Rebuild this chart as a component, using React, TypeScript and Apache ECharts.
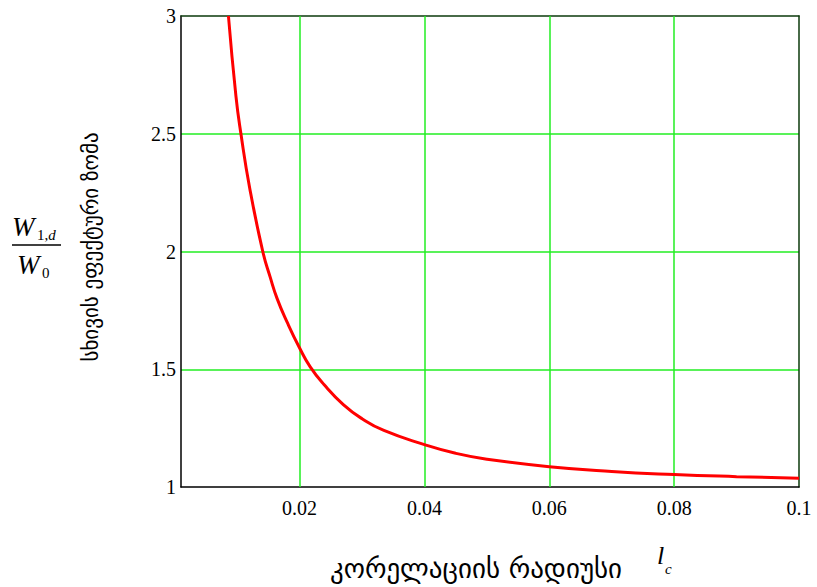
import React, { useEffect, useRef } from "react";
import * as echarts from "echarts";

const xValues = [0.0086, 0.0098, 0.0106, 0.012, 0.0141, 0.0153, 0.0164, 0.018, 0.02, 0.0217, 0.0239, 0.027, 0.03, 0.0335, 0.04, 0.045, 0.05, 0.06, 0.07, 0.08, 0.09, 0.1];
const yValues = [3.0, 2.66, 2.5, 2.27, 2.0, 1.89, 1.8, 1.7, 1.59, 1.51, 1.435, 1.35, 1.29, 1.24, 1.18, 1.143, 1.118, 1.086, 1.066, 1.053, 1.044, 1.037];
const xTickLabels = [0.02, 0.04, 0.06, 0.08, 0.1];
const xGridValues = [0.02, 0.04, 0.06, 0.08];
const xTitle = "კორელაციის რადიუსი";
const yTitle = "სხივის ეფექტური ზომა";

const SERIF = "'Liberation Serif', 'DejaVu Serif', serif";
const GEO = "'DejaVu Sans', 'Noto Sans', sans-serif";
const GRID_GREEN = "#22ee22";

export default function App() {
  const ref = useRef<HTMLDivElement>(null);
  useEffect(() => {
    document.body.style.margin = "0";
    const chart = echarts.init(ref.current!, null, { renderer: "svg" });
    const data = xValues.map((x, i) => [x, yValues[i]]);
    chart.setOption({
      animation: false,
      backgroundColor: "#ffffff",
      grid: { left: 181, right: 18, top: 16, bottom: 100, containLabel: false },
      xAxis: [
        {
          type: "value",
          min: 0.001,
          max: 0.1,
          axisLine: { show: true, lineStyle: { color: "#000", width: 1.5 } },
          axisTick: { show: false },
          splitLine: { show: false },
          axisLabel: {
            customValues: xTickLabels,
            color: "#000",
            fontFamily: SERIF,
            fontSize: 20,
            margin: 11,
            formatter: (v: number) => String(+v.toFixed(2)),
          },
        },
        {
          type: "value",
          position: "top",
          min: 0.001,
          max: 0.1,
          axisLine: { show: true, lineStyle: { color: "#0b3a0b", width: 1.5 } },
          axisTick: { show: false },
          axisLabel: { show: false },
          splitLine: { show: false },
        },
      ],
      yAxis: [
        {
          type: "value",
          min: 1,
          max: 3,
          interval: 0.5,
          axisLine: { show: true, lineStyle: { color: "#000", width: 1.5 } },
          axisTick: { show: false },
          splitLine: { show: true, showMinLine: false, showMaxLine: false, lineStyle: { color: GRID_GREEN, width: 1.5 } },
          axisLabel: {
            color: "#000",
            fontFamily: SERIF,
            fontSize: 20,
            margin: 5,
            formatter: (v: number) => String(v),
          },
        },
        {
          type: "value",
          position: "right",
          min: 1,
          max: 3,
          interval: 0.5,
          axisLine: { show: true, lineStyle: { color: "#0b3a0b", width: 1.5 } },
          axisTick: { show: false },
          axisLabel: { show: false },
          splitLine: { show: false },
        },
      ],
      series: [
        {
          type: "line",
          data,
          smooth: 0.5,
          showSymbol: false,
          symbol: "none",
          lineStyle: { color: "#ff0000", width: 3 },
          z: 5,
          markLine: {
            silent: true,
            symbol: "none",
            label: { show: false },
            lineStyle: { color: GRID_GREEN, width: 1.5, type: "solid" },
            data: xGridValues.map((v) => ({ xAxis: v })),
            z: 1,
          },
        },
      ],
      graphic: [
        { type: "text", x: 12, y: 213, style: { text: "W", fontFamily: SERIF, fontStyle: "italic", fontSize: 27, fill: "#000" } },
        {
          type: "text",
          x: 37,
          y: 227,
          style: {
            text: "{n|1,}{i|d}",
            rich: {
              n: { fontFamily: SERIF, fontSize: 15, fill: "#000" },
              i: { fontFamily: SERIF, fontSize: 15, fontStyle: "italic", fill: "#000" },
            },
          },
        },
        { type: "line", shape: { x1: 12, y1: 245, x2: 61, y2: 245 }, style: { stroke: "#000", lineWidth: 1.5 } },
        { type: "text", x: 17, y: 251, style: { text: "W", fontFamily: SERIF, fontStyle: "italic", fontSize: 27, fill: "#000" } },
        { type: "text", x: 42, y: 265, style: { text: "0", fontFamily: SERIF, fontSize: 15, fill: "#000" } },
        {
          type: "text",
          x: 91,
          y: 247,
          rotation: Math.PI / 2,
          style: { text: yTitle, fontFamily: GEO, fontSize: 21, fill: "#000", textAlign: "center", textVerticalAlign: "middle" },
        },
        {
          type: "text",
          x: 476,
          y: 568,
          style: { text: xTitle, fontFamily: GEO, fontSize: 27, fill: "#000", textAlign: "center", textVerticalAlign: "middle" },
        },
        { type: "text", x: 657, y: 542, style: { text: "l", fontFamily: SERIF, fontStyle: "italic", fontSize: 26, fill: "#000" } },
        { type: "text", x: 665, y: 561, style: { text: "c", fontFamily: SERIF, fontStyle: "italic", fontSize: 15, fill: "#000" } },
      ],
    });
    return () => chart.dispose();
  }, []);
  return <div ref={ref} style={{ position: "fixed", left: 0, top: 0, width: 817, height: 587 }} />;
}
